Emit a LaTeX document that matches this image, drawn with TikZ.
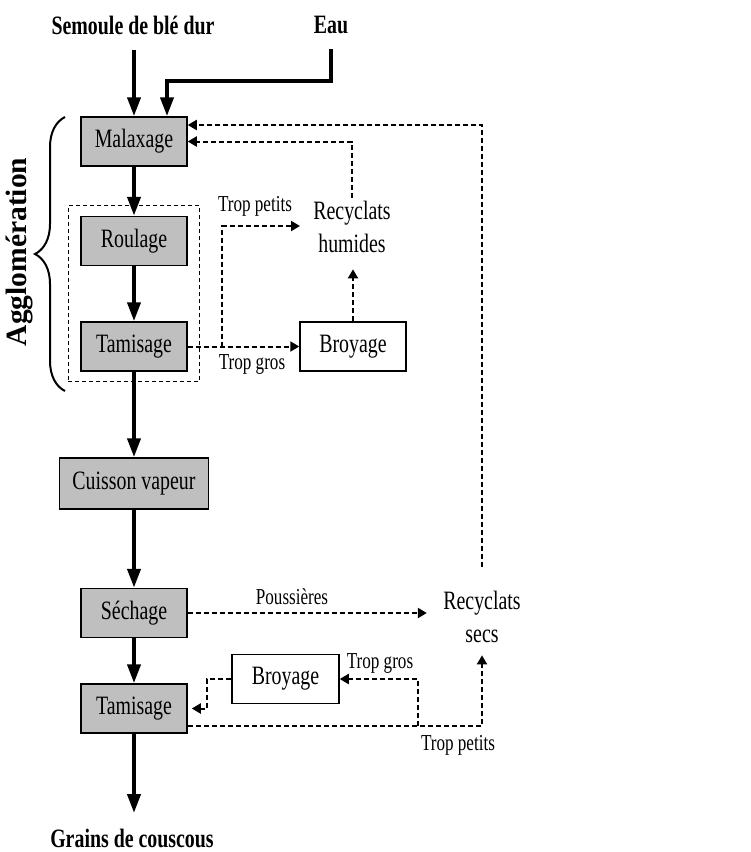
\documentclass[tikz,border=0pt]{standalone}
\usepackage{fontspec}
\setmainfont{Liberation Serif}[FakeStretch=0.75]
\newfontfamily\wideserif{Liberation Serif}
\usetikzlibrary{arrows.meta,fit,decorations.pathreplacing}

\begin{document}
\begin{tikzpicture}[x=1pt, y=-1pt,
    stage/.style={draw, line width=1.5pt, fill=black!25, minimum width=106pt, minimum height=49pt, inner sep=0pt, font=\fontsize{26.5}{33}\selectfont},
    mill/.style={stage, fill=white},
    pile/.style={font=\fontsize{26.5}{33}\selectfont, align=center},
    heading/.style={font=\fontsize{26.5}{32}\selectfont\bfseries},
    note/.style={font=\fontsize{22.8}{27}\selectfont},
    flow/.style={line width=4pt, -{Triangle[length=19pt,width=13pt]}},
    recycle/.style={line width=2pt, dash pattern=on 5pt off 3pt, -{Triangle[length=9pt,width=10pt]}}]
    \useasboundingbox (0,0) rectangle (751,852);

    \node[heading] (semoule) at (133,25) {Semoule de blé dur};
    \node[heading] (eau) at (331,25) {Eau};
    \node[stage] (malax) at (134,141.5) {Malaxage};
    \node[stage] (roul) at (134,241) {Roulage};
    \node[stage] (tamis) at (134,346.5) {Tamisage};
    \node[stage, minimum width=149pt, minimum height=51pt] (cuisson) at (134,483.5) {Cuisson vapeur};
    \node[stage] (sechage) at (134,613) {Séchage};
    \node[stage] (tamisfin) at (134,708.5) {Tamisage};
    \node[heading] (grains) at (132,838) {Grains de couscous};

    \node[mill] (broyhum) at (353,346.5) {Broyage};
    \node[pile] (humides) at (352,227) {Recyclats\\humides};
    \node[mill, minimum width=107pt] (broysec) at (285.5,679) {Broyage};
    \node[pile] (secs) at (482,616.5) {Recyclats\\secs};

    \node[draw, dash pattern=on 4pt off 3pt, line width=1pt, fit=(roul)(tamis), inner xsep=12pt, inner ysep=10pt] (agglobox) {};
    \draw[line width=2pt, decorate, decoration={brace, amplitude=30pt}] (65,391) -- (65,117);
    \node[font=\fontsize{29.5}{34}\selectfont\wideserif\bfseries, rotate=90] (agglo) at (20,252) {Agglomération};

    \node[note] (petitshum) at (255,206) {Trop petits};
    \node[note] (groshum) at (252,364) {Trop gros};
    \node[note] (pouss) at (292,597) {Poussières};
    \node[note] (grossec) at (380,663.5) {Trop gros};
    \node[note] (petitssec) at (458,745) {Trop petits};

    \coordinate (eauturn) at (167,81);
    \coordinate (grainsend) at (134,813);
    \draw[flow] ([yshift=-12pt]semoule.south -| malax.north) -- (malax.north);
    \draw[flow] ([yshift=-12pt]eau.south) |- (eauturn) -- (eauturn |- malax.north);
    \draw[flow] (malax) -- (roul);
    \draw[flow] (roul) -- (tamis);
    \draw[flow] (tamis) -- (cuisson);
    \draw[flow] (cuisson) -- (sechage);
    \draw[flow] (sechage) -- (tamisfin);
    \draw[flow] (tamisfin) -- (grainsend);

    \coordinate (splithum) at (222,346.5);
    \coordinate (pettip) at (300,226);
    \coordinate (splitsec) at (418,726);
    \draw[recycle] (tamis) -- (broyhum);
    \draw[recycle] (splithum) |- (pettip);
    \draw[recycle, shorten >=13pt] (broyhum.north) -- (broyhum.north |- humides.south);
    \draw[recycle] (humides.north) |- (malax.east);
    \draw[recycle, shorten <=20pt] (secs.north) |- ([yshift=16.5pt]malax.east);
    \draw[recycle, shorten >=13pt] (sechage.east) -- (sechage.east -| secs.west);
    \draw[recycle, shorten >=9.5pt] ([yshift=-17.5pt]tamisfin.east) -| (secs.south);
    \draw[recycle] (splitsec) |- (broysec.east);
    \draw[recycle] (broysec.west) -- ++(-24,0) |- ([xshift=4pt]tamisfin.east);
\end{tikzpicture}
\end{document}
